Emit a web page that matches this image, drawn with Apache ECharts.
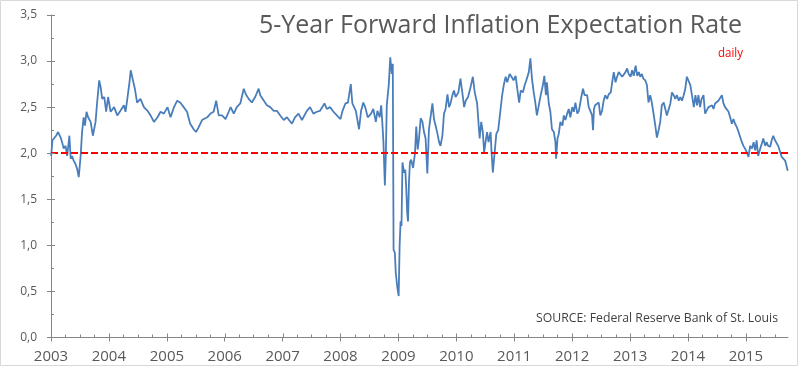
<!DOCTYPE html>
<html>
<head>
<meta charset="utf-8">
<script src="https://cdn.jsdelivr.net/npm/echarts@6/dist/echarts.min.js"></script>
<style>
html,body{margin:0;padding:0;background:#fff;}
#chart{width:800px;height:367px;}
</style>
</head>
<body>
<div id="chart"></div>
<script>
// ---- data ----
const titleText = '5-Year Forward Inflation Expectation Rate';
const subtitleText = 'daily';
const sourceText = 'SOURCE: Federal Reserve Bank of St. Louis';
const targetRate = 2.0;
const yearTicks = [2003,2004,2005,2006,2007,2008,2009,2010,2011,2012,2013,2014,2015];
const yMinorTicks = [0.25,0.5,0.75,1.0,1.25,1.5,1.75,2.0,2.25,2.5,2.75,3.0,3.25,3.5];
const axisEnd = '2015-09-24';

const dates = [
'2003-01-02','2003-01-10','2003-02-02','2003-02-15','2003-03-03','2003-03-12','2003-03-22','2003-04-03','2003-04-13','2003-04-27',
'2003-05-05','2003-05-14','2003-05-24','2003-06-05','2003-06-15','2003-06-25','2003-07-07','2003-07-16','2003-07-26','2003-08-03',
'2003-08-13','2003-08-23','2003-09-08','2003-09-22','2003-10-01','2003-10-09','2003-10-19','2003-11-01','2003-11-10','2003-11-20',
'2003-12-03','2003-12-15','2003-12-27',
'2004-01-12','2004-02-03','2004-02-23','2004-03-14','2004-04-05','2004-04-15','2004-04-25','2004-05-10','2004-05-18','2004-06-01',
'2004-06-13','2004-06-27','2004-07-18','2004-08-09','2004-09-01','2004-09-20','2004-10-11','2004-11-03','2004-11-22','2004-12-13',
'2005-01-05','2005-01-24','2005-02-15','2005-03-07','2005-03-26','2005-04-17','2005-05-08','2005-05-28','2005-06-19','2005-07-04',
'2005-07-20','2005-08-11','2005-09-12','2005-10-03','2005-10-23','2005-11-08','2005-11-24','2005-12-15',
'2006-01-06','2006-01-26','2006-02-07','2006-02-27','2006-03-18','2006-04-09','2006-05-01','2006-05-14','2006-06-01','2006-06-21',
'2006-07-12','2006-08-03','2006-08-13','2006-09-05','2006-09-24','2006-10-15','2006-11-06','2006-11-26','2006-12-17',
'2007-01-08','2007-01-28','2007-03-01','2007-03-20','2007-04-11','2007-05-03','2007-06-03','2007-06-23','2007-07-14','2007-08-05',
'2007-08-25','2007-09-06','2007-09-22','2007-10-07','2007-10-27','2007-11-18','2007-12-09',
'2008-01-01','2008-01-14','2008-02-01','2008-02-17','2008-03-06','2008-03-16','2008-04-07','2008-04-27','2008-05-10','2008-05-24',
'2008-06-05','2008-06-21','2008-07-12','2008-07-26','2008-08-11','2008-08-21','2008-09-04','2008-09-14','2008-09-22','2008-09-28',
'2008-10-07','2008-10-13','2008-10-19','2008-11-01','2008-11-10','2008-11-20','2008-11-26','2008-12-01','2008-12-09','2008-12-15',
'2008-12-25',
'2009-01-02','2009-01-08','2009-01-14','2009-01-20','2009-01-26','2009-02-05','2009-02-13','2009-02-19','2009-02-25','2009-03-02',
'2009-03-08','2009-03-14','2009-03-22','2009-04-03','2009-04-15','2009-04-23','2009-05-02','2009-05-10','2009-05-21','2009-06-01',
'2009-06-11','2009-06-21','2009-07-02','2009-07-12','2009-07-22','2009-08-03','2009-08-13','2009-08-23','2009-09-04','2009-09-14',
'2009-09-23','2009-10-05','2009-10-15','2009-10-25','2009-11-06','2009-11-16','2009-11-25','2009-12-07','2009-12-17','2009-12-27',
'2010-01-14','2010-01-27','2010-02-09','2010-02-19','2010-03-01','2010-03-16','2010-04-01','2010-04-15','2010-04-27','2010-05-12',
'2010-05-22','2010-05-28','2010-06-07','2010-06-17','2010-06-25','2010-07-04','2010-07-14','2010-07-23','2010-08-05','2010-08-11',
'2010-08-19','2010-08-27','2010-09-10','2010-09-22','2010-10-07','2010-10-17','2010-10-27','2010-11-08','2010-11-18','2010-12-03',
'2010-12-15','2010-12-28',
'2011-01-10','2011-01-20','2011-02-01','2011-02-11','2011-02-25','2011-03-08','2011-03-18','2011-04-03','2011-04-13','2011-04-23',
'2011-05-04','2011-05-14','2011-05-24','2011-06-05','2011-06-17','2011-07-01','2011-07-10','2011-07-20','2011-07-26','2011-08-07',
'2011-08-17','2011-08-27','2011-09-08','2011-09-18','2011-09-22','2011-10-01','2011-10-09','2011-10-19','2011-11-01','2011-11-10',
'2011-11-20','2011-12-01','2011-12-11','2011-12-21',
'2012-01-02','2012-01-12','2012-01-22','2012-02-03','2012-02-13','2012-02-28','2012-03-10','2012-03-20','2012-04-05','2012-04-15',
'2012-04-25','2012-05-06','2012-05-12','2012-05-18','2012-05-25','2012-06-17','2012-06-27','2012-07-08','2012-07-18','2012-07-28',
'2012-08-09','2012-08-19','2012-09-01','2012-09-10','2012-09-20','2012-10-01','2012-10-11','2012-10-21','2012-11-02','2012-11-12',
'2012-11-22','2012-12-03','2012-12-13','2012-12-23',
'2013-01-04','2013-01-14','2013-01-24','2013-02-05','2013-02-15','2013-02-25','2013-03-06','2013-03-16','2013-03-25','2013-04-07',
'2013-04-17','2013-04-27','2013-05-08','2013-05-18','2013-05-27','2013-06-09','2013-06-19','2013-07-01','2013-07-10','2013-07-20',
'2013-08-01','2013-08-11','2013-08-21','2013-09-02','2013-09-12','2013-09-22','2013-10-03','2013-10-13','2013-10-23','2013-11-04',
'2013-11-14','2013-11-24','2013-12-05','2013-12-15','2013-12-25',
'2014-01-06','2014-01-16','2014-01-26','2014-02-07','2014-02-17','2014-02-27','2014-03-08','2014-03-18','2014-03-28','2014-04-09',
'2014-04-19','2014-05-01','2014-05-10','2014-05-20','2014-06-02','2014-06-11','2014-06-21','2014-07-03','2014-07-12','2014-07-22',
'2014-08-03','2014-08-13','2014-08-23','2014-09-04','2014-09-14','2014-09-24','2014-10-05','2014-10-15','2014-10-25','2014-11-06',
'2014-11-16','2014-11-26','2014-12-07','2014-12-17','2014-12-27',
'2015-01-08','2015-01-18','2015-01-28','2015-02-09','2015-02-19','2015-03-01','2015-03-10','2015-03-20','2015-04-02','2015-04-11',
'2015-04-21','2015-05-03','2015-05-12','2015-05-22','2015-06-04','2015-06-13','2015-06-23','2015-07-04','2015-07-14','2015-07-24',
'2015-08-06','2015-08-15','2015-08-25','2015-09-06','2015-09-12','2015-09-22'
];

const rates = [
1.97,2.14,2.19,2.23,2.17,2.12,2.05,2.08,1.97,2.19,
1.94,1.97,1.92,1.88,1.83,1.74,1.97,2.23,2.39,2.30,
2.45,2.39,2.34,2.19,2.17,2.34,2.55,2.79,2.72,2.59,
2.61,2.45,2.61,
2.45,2.50,2.41,2.46,2.52,2.45,2.57,2.77,2.90,2.79,
2.70,2.55,2.59,2.50,2.46,2.41,2.34,2.39,2.45,2.43,
2.50,2.39,2.50,2.57,2.55,2.50,2.45,2.32,2.26,2.23,
2.28,2.36,2.39,2.43,2.45,2.57,2.41,2.41,
2.37,2.45,2.50,2.43,2.50,2.54,2.70,2.64,2.59,2.55,
2.61,2.70,2.63,2.57,2.52,2.50,2.46,2.46,2.41,
2.36,2.39,2.32,2.39,2.43,2.36,2.46,2.50,2.43,2.45,
2.46,2.45,2.54,2.48,2.50,2.45,2.41,
2.37,2.46,2.54,2.55,2.75,2.54,2.46,2.26,2.46,2.55,
2.50,2.39,2.43,2.48,2.34,2.46,2.39,2.52,2.30,2.12,
1.65,1.97,2.52,2.75,3.04,2.86,2.97,0.95,0.92,0.70,
0.54,
0.45,0.99,1.26,1.21,1.90,1.79,1.82,1.61,1.35,1.26,
1.68,1.90,1.93,1.84,2.00,2.29,2.04,2.15,2.38,2.34,
2.23,2.16,1.78,2.26,2.39,2.54,2.37,2.30,2.21,2.12,
2.08,2.19,2.43,2.48,2.64,2.50,2.54,2.63,2.68,2.61,
2.66,2.81,2.64,2.50,2.57,2.61,2.72,2.83,2.66,2.54,
2.30,2.16,2.34,2.23,2.01,2.12,2.23,2.12,2.23,2.01,
1.79,1.94,2.21,2.25,2.48,2.63,2.74,2.83,2.77,2.86,
2.83,2.79,
2.84,2.70,2.55,2.68,2.66,2.74,2.79,2.88,3.03,2.81,
2.66,2.55,2.41,2.52,2.63,2.74,2.84,2.63,2.77,2.54,
2.45,2.26,2.23,2.12,1.94,2.16,2.21,2.34,2.30,2.41,
2.36,2.43,2.48,2.39,
2.50,2.45,2.55,2.43,2.46,2.61,2.70,2.63,2.63,2.50,
2.46,2.41,2.25,2.48,2.52,2.55,2.41,2.46,2.57,2.63,
2.59,2.64,2.66,2.77,2.88,2.77,2.83,2.88,2.90,2.83,
2.81,2.88,2.92,2.86,
2.83,2.90,2.84,2.95,2.84,2.88,2.83,2.86,2.81,2.79,
2.74,2.55,2.63,2.55,2.45,2.30,2.17,2.26,2.34,2.52,
2.55,2.48,2.41,2.43,2.54,2.66,2.63,2.59,2.63,2.57,
2.61,2.57,2.63,2.70,2.83,
2.81,2.74,2.63,2.50,2.63,2.52,2.63,2.50,2.59,2.63,
2.43,2.45,2.50,2.48,2.52,2.48,2.54,2.55,2.57,2.59,
2.63,2.54,2.50,2.52,2.45,2.39,2.32,2.37,2.32,2.28,
2.23,2.21,2.12,2.08,2.05,
2.01,1.96,2.08,2.05,2.12,2.03,2.14,1.97,2.05,2.10,
2.16,2.08,2.12,2.08,2.07,2.14,2.19,2.14,2.16,2.08,
2.01,1.96,1.94,1.92,1.88,1.81
];

// ---- chart ----
const ts = d => Date.parse(d + 'T00:00:00Z');
const xMin = Date.UTC(yearTicks[0], 0, 1);
const xMax = ts(axisEnd);
const yearValues = yearTicks.map(y => Date.UTC(y, 0, 1));
const quarterValues = [];
yearTicks.forEach(y => { [0,3,6,9].forEach(m => { const v = Date.UTC(y, m, 1); if (v <= xMax && v > xMin) quarterValues.push(v); }); });

const seriesData = dates.map((d, i) => [ts(d), rates[i]]);

function fitScale(text, font, target) {
  const c = document.createElement('canvas').getContext('2d');
  c.font = font;
  return target / c.measureText(text).width;
}
const titleFont = '26px "Open Sans"';
const subFont = '12.5px "Open Sans"';
const srcFont = '13px "Open Sans"';

const chart = echarts.init(document.getElementById('chart'), null, {renderer: 'canvas'});
const gray = '#595959';
const axisGray = '#868686';

const baseGraphics = [
  {id: 'frame', type: 'rect', shape: {x: 0.5, y: 0.5, width: 797, height: 365}, style: {fill: null, stroke: '#d9d9d9', lineWidth: 1}, silent: true},
  {id: 'title', type: 'text', x: 742, y: 26, scaleX: fitScale(titleText, titleFont, 483), z: 10,
    style: {text: titleText, font: titleFont, fill: gray, align: 'right', verticalAlign: 'middle'}},
  {id: 'sub', type: 'text', x: 743, y: 53, scaleX: fitScale(subtitleText, subFont, 25), z: 10,
    style: {text: subtitleText, font: subFont, fill: '#ff0000', align: 'right', verticalAlign: 'middle'}},
  {id: 'src', type: 'text', x: 778, y: 318, scaleX: fitScale(sourceText, srcFont, 242), z: 10,
    style: {text: sourceText, font: srcFont, fill: '#404040', align: 'right', verticalAlign: 'middle'}}
];

chart.setOption({
  animation: false,
  backgroundColor: '#ffffff',
  grid: {left: 51, right: 12, top: 15, bottom: 29.5, containLabel: false},
  xAxis: {
    type: 'value', min: xMin, max: xMax,
    axisLine: {show: true, onZero: false, lineStyle: {color: axisGray, width: 1}},
    axisTick: {show: true, inside: false, length: 4, customValues: yearValues, lineStyle: {color: axisGray}},
    axisLabel: {show: true, customValues: yearValues, margin: 12, color: gray, fontSize: 15, fontFamily: 'Open Sans',
      formatter: v => String(new Date(v + 2*864e5).getUTCFullYear())},
    splitLine: {show: false}
  },
  yAxis: {
    type: 'value', min: 0, max: 3.5, interval: 0.5,
    axisLine: {show: true, lineStyle: {color: axisGray, width: 1}},
    axisTick: {show: true, inside: false, length: 4, lineStyle: {color: axisGray}},
    axisLabel: {show: true, margin: 14, color: gray, fontSize: 12, fontFamily: 'Open Sans',
      formatter: v => v.toFixed(1).replace('.', ',')},
    splitLine: {show: false}
  },
  series: [
    {
      type: 'line',
      data: seriesData,
      showSymbol: false,
      symbol: 'none',
      lineStyle: {color: '#4a7ebb', width: 1.8},
      z: 3,
      markLine: {
        silent: true, symbol: 'none', label: {show: false},
        lineStyle: {color: '#ff0000', type: [7, 3], width: 2},
        data: [{yAxis: targetRate}],
        z: 4
      }
    }
  ],
  graphic: {elements: baseGraphics}
});

// inner tick marks (upward on x, rightward on y), placed via the axes' own scales
const yearSet = new Set(yearValues);
const tickGraphics = [];
quarterValues.forEach((v, i) => {
  const p = chart.convertToPixel({xAxisIndex: 0, yAxisIndex: 0}, [v, 0]);
  const len = yearSet.has(v) ? 4 : 3;
  const x = Math.round(p[0]) + 0.5;
  tickGraphics.push({id: 'xt' + i, type: 'line', silent: true, z: 20, zlevel: 0,
    shape: {x1: x, y1: p[1], x2: x, y2: p[1] - len}, style: {stroke: axisGray, lineWidth: 1}});
});
yMinorTicks.forEach((v, i) => {
  const p = chart.convertToPixel({xAxisIndex: 0, yAxisIndex: 0}, [xMin, v]);
  const len = (Math.abs(v * 2 - Math.round(v * 2)) < 1e-9) ? 4 : 3;
  const y = Math.round(p[1]) + 0.5;
  tickGraphics.push({id: 'yt' + i, type: 'line', silent: true, z: 20, zlevel: 0,
    shape: {x1: p[0], y1: y, x2: p[0] + len, y2: y}, style: {stroke: axisGray, lineWidth: 1}});
});
chart.setOption({graphic: {elements: tickGraphics}});
</script>
</body>
</html>
